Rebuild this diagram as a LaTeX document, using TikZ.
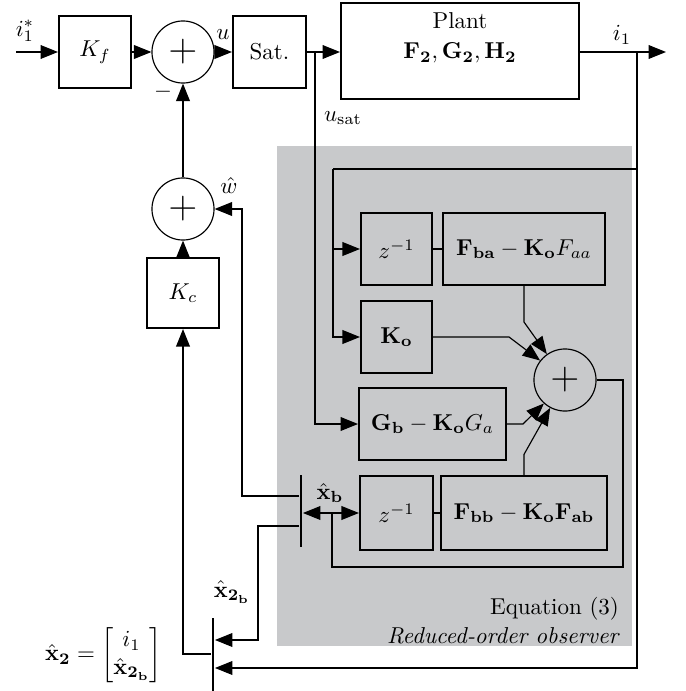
\documentclass[tikz,border=0pt]{standalone}
\usepackage{amsmath}
\usepackage{tikz}
\usetikzlibrary{arrows.meta, calc}
\definecolor{obsgray}{RGB}{200,201,203}
\tikzset{
  block/.style={rectangle, draw=black, line width=0.9pt,
    minimum width=31.3pt, minimum height=31.3pt, inner sep=1pt},
  sumnode/.style={circle, draw=black, line width=0.5pt,
    minimum size=27pt, inner sep=0pt, font=\LARGE},
  barnode/.style={rectangle, fill=black, minimum width=1.3pt,
    minimum height=31.3pt, inner sep=0pt},
  arrow/.style={-{Triangle[length=7.6pt,width=6pt]}, line width=0.5pt},
  dblarrow/.style={{Triangle[length=7.6pt,width=6pt]}-{Triangle[length=7.6pt,width=6pt]}, line width=0.5pt},
  line/.style={line width=0.5pt}
}

\begin{document}
\begin{tikzpicture}[x=0.435pt, y=-0.435pt]
    \useasboundingbox (0,0) rectangle (686,691);

    % Observer background
    \fill[obsgray] (277,146) rectangle (632,646);

    % Forward path
    \coordinate (iref) at (16,52);
    \node[block] (kf) at (95,52) {$K_f$};
    \node[sumnode] (sum1) at (183,52) {$+$};
    \node[block, minimum width=31.8pt] (sat) at (269.5,52) {Sat.};
    \node[block, minimum width=103.5pt, minimum height=41.8pt] (plant) at (460,51) {};
    \node[align=center] (plantlbl) at (460,38) {Plant\\[1pt]$\mathbf{F_2,G_2,H_2}$};
    \coordinate (usat) at (315,52);
    \coordinate (iout) at (637,52);
    \coordinate (iend) at (666,52);

    \draw[arrow] (iref) -- (kf);
    \draw[arrow] (kf) -- (sum1);
    \draw[arrow] (sum1) -- (sat);
    \draw[arrow] (sat) -- (plant.west |- usat);
    \draw[arrow] (plant.east |- iout) -- (iend);

    \node (lblref) at (25,31) {$i_1^*$};
    \node (lblu) at (223,35) {$u$};
    \node (lbli) at (622,35) {$i_1$};
    \node (lblminus) at (163,92) {$-$};
    \node (lblusat) at (343,118) {$u_{\mathrm{sat}}$};

    % Controller feedback
    \node[sumnode] (sum3) at (183,209) {$+$};
    \node[block, minimum height=30.5pt] (kc) at (183,293) {$K_c$};
    \node[inner sep=0.5pt] (lblw) at (229,186) {$\hat{w}$};
    \draw[arrow] (sum3) -- (sum1);
    \draw[arrow] (kc) -- (sum3);

    % Reduced-order observer
    \node[block, minimum width=30.9pt] (zba) at (396.5,249) {$z^{-1}$};
    \node[block, minimum width=70.5pt] (fba) at (524,249) {$\mathbf{F_{ba}}-\mathbf{K_o}F_{aa}$};
    \node[block, minimum width=30.9pt] (ko) at (396.5,337) {$\mathbf{K_o}$};
    \node[sumnode] (sum2) at (565,380) {$+$};
    \node[block, minimum width=63.9pt] (gb) at (432.5,424) {$\mathbf{G_b}-\mathbf{K_o}G_a$};
    \node[block, minimum width=31.8pt, minimum height=31.8pt] (zbb) at (396.5,513) {$z^{-1}$};
    \node[block, minimum width=72.2pt, minimum height=31.8pt] (fbb) at (524,513) {$\mathbf{F_{bb}}-\mathbf{K_oF_{ab}}$};

    \coordinate (obsin) at (333,169);
    \draw[arrow] (usat) |- (gb.west);
    \draw[line] (iout) |- (obsin);
    \draw[arrow] (obsin) |- (zba.west);
    \draw[arrow] (obsin) |- (ko.west);
    \draw[line] (zba) -- (fba);
    \draw[line] (zbb) -- (fbb);

    \draw[arrow] (fba.south) -- ++(0,36) -- (sum2.125);
    \draw[arrow] (ko.east) -- ++(76,0) -- (sum2.142);
    \draw[arrow] (gb.east) -- ++(16,0) -- (sum2.228);
    \draw[arrow] (fbb.north) -- ++(0,-21) -- (sum2.242);

    % State loop
    \node[barnode] (bar1) at (301,511) {};
    \coordinate (fbcorner) at (623,567);
    \coordinate (fbjoin) at (332,513);
    \draw[line] (sum2.east) -| (fbcorner) -| (fbjoin);
    \draw[dblarrow] (bar1.east |- fbjoin) -- (zbb.west);
    \node (lblxb) at (330,493) {$\hat{\mathbf{x}}_{\mathbf{b}}$};

    \node[anchor=east] (lbleq) at (627,609) {Equation (3)};
    \node[anchor=east] (lblobs) at (628,636) {\textit{Reduced-order observer}};

    % Estimated state
    \node[barnode, minimum height=31.8pt] (bar2) at (213,654.5) {};
    \coordinate (wcorner) at (242,496);
    \coordinate (xcorner) at (258,526);
    \coordinate (lvlxb) at (0,640);
    \coordinate (lvlkc) at (0,654);
    \coordinate (lvlio) at (0,668);
    \draw[arrow] (bar1.west |- wcorner) -- (wcorner) |- (sum3.east);
    \draw[arrow] (bar1.west |- xcorner) -- (xcorner) |- (bar2.east |- lvlxb);
    \draw[arrow] (iout) |- (bar2.east |- lvlio);
    \draw[arrow] (bar2.west |- lvlkc) -| (kc.south);

    \node (lblxtb) at (232,592) {$\hat{\mathbf{x}}_{\mathbf{2}_{\mathbf{b}}}$};
    \node[anchor=east] (lblxt) at (170,655) {$\hat{\mathbf{x}}_{\mathbf{2}}=\begin{bmatrix} i_1\\ \hat{\mathbf{x}}_{\mathbf{2}_{\mathbf{b}}}\end{bmatrix}$};
\end{tikzpicture}
\end{document}
